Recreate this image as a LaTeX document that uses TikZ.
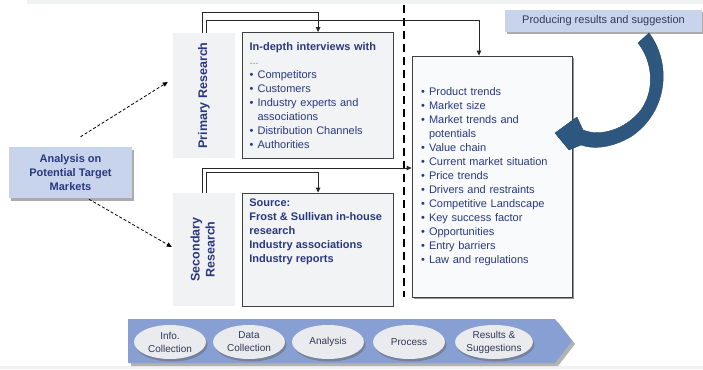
\documentclass[tikz,border=0pt]{standalone}
\usepackage{fontspec}
\setmainfont{Liberation Sans}
\usetikzlibrary{positioning,shadows,shapes.geometric,arrows.meta}
\definecolor{navy}{RGB}{42,56,128}
\definecolor{stripgray}{RGB}{241,242,243}
\definecolor{boxgray}{RGB}{242,243,244}
\definecolor{paleblue}{RGB}{199,212,236}
\definecolor{chevblue}{RGB}{136,159,211}
\definecolor{curveblue}{RGB}{45,87,126}
\definecolor{ovalgray}{RGB}{233,235,238}
\definecolor{slate}{RGB}{50,58,85}
\definecolor{bandgray}{RGB}{240,241,241}
\newcommand{\itm}[1]{\makebox[8pt][l]{\textbullet}#1}
\newcommand{\cnt}[1]{\hspace*{8pt}#1}
\newcommand{\txtfont}{\fontsize{11}{14}\selectfont}

\begin{document}
\begin{tikzpicture}[x=1pt,y=-1pt,
    strip/.style={fill=stripgray, text=navy, font=\fontsize{12.5}{15}\bfseries\selectfont,
      minimum width=62pt, inner sep=0pt},
    txtbox/.style={draw=black!75, fill=boxgray, line width=0.8pt, text=navy,
      font=\txtfont, align=left, inner sep=0pt},
    headbox/.style={fill=paleblue, inner sep=0pt,
      drop shadow={shadow xshift=2pt, shadow yshift=-2.5pt, fill=black!55, opacity=0.6}},
    oval/.style={ellipse, fill=ovalgray, minimum width=72pt, minimum height=34pt, inner sep=0pt,
      align=center, text=slate, font=\fontsize{10}{13}\selectfont,
      drop shadow={shadow xshift=1.5pt, shadow yshift=-2.5pt, fill=black!60, opacity=0.5}},
    conn/.style={draw=black!85, line width=1pt, -{Triangle[length=5pt,width=4.5pt]}},
    dasharr/.style={line width=0.8pt, dash pattern=on 3pt off 2pt, -{Triangle[length=5pt,width=4.5pt]}},
    sepline/.style={line width=2pt, dash pattern=on 8pt off 5pt}]
  \useasboundingbox (0,0) rectangle (703,369);
  \fill[bandgray] (27,0) rectangle (703,4.5);
  \fill[bandgray] (0,366) rectangle (703,369);

  % research strips and boxes
  \node[strip, minimum height=125pt] (prim) at (204,95.5) {\rotatebox{90}{Primary Research}};
  \node[txtbox, text width=137pt, inner xsep=7pt, minimum height=126pt, right=7pt of prim] (pbox)
    {\textbf{In-depth interviews with}\\ {\color{gray}...}\\ \itm{Competitors}\\ \itm{Customers}\\
     \itm{Industry experts and}\\ \cnt{associations}\\ \itm{Distribution Channels}\\ \itm{Authorities}\\[-5pt]};

  \node[strip, minimum height=113pt] (sec) at (204,249.5)
    {\rotatebox{90}{\begin{tabular}{@{}c@{}}Secondary\\Research\end{tabular}}};
  \node[txtbox, minimum width=151pt, minimum height=113pt, right=7pt of sec] (sbox) {};
  \node[anchor=north west, text=navy, font=\txtfont\bfseries, align=left, inner sep=0pt] (stxt)
    at ([xshift=7pt,yshift=-6pt]sbox.north west)
    {Source:\\Frost \& Sullivan in-house\\research\\Industry associations\\Industry reports};

  % results
  \node[txtbox, fill={rgb,255:red,248;green,250;blue,251}, text width=142pt, inner xsep=9pt,
    minimum height=241pt,
    drop shadow={shadow xshift=2pt, shadow yshift=-2pt, fill=black!70, opacity=0.6}] (rbox) at (492,176.5)
    {\itm{Product trends}\\ \itm{Market size}\\ \itm{Market trends and}\\ \cnt{potentials}\\
     \itm{Value chain}\\ \itm{Current market situation}\\ \itm{Price trends}\\
     \itm{Drivers and restraints}\\ \itm{Competitive Landscape}\\ \itm{Key success factor}\\
     \itm{Opportunities}\\ \itm{Entry barriers}\\ \itm{Law and regulations}};

  \node[headbox, text=navy, font=\txtfont\bfseries, align=center, minimum width=123pt,
    minimum height=51pt] (ana) at (70.5,172.5) {Analysis on\\Potential Target\\Markets};
  \node[headbox, text=slate, font=\txtfont, minimum width=197pt, minimum height=22pt] (prod)
    at (603.5,21) {Producing results and suggestion};

  \coordinate (dtop) at (404,5);
  \coordinate (dbot) at (404,297);
  \draw[sepline] (dtop) -- (dbot);

  \draw[conn] ([xshift=-2pt]prim.north) -- ++(0,-20) -| (pbox.north);
  \draw[conn] ([xshift=2pt]prim.north) -- ++(0,-12) -| ([xshift=-13pt]rbox.north);
  \draw[conn] ([xshift=-2pt]sec.north) |- ([yshift=8.5pt]rbox.west);
  \draw[conn] ([xshift=2pt]sec.north) -- ++(0,-20) -| (sbox.north);

  \draw[dasharr] ([xshift=10pt,yshift=10pt]ana.north) -- ([xshift=-5pt,yshift=13.5pt]prim.west);
  \draw[dasharr] ([xshift=18.5pt,yshift=-1pt]ana.south) -- ([xshift=-1pt,yshift=2.5pt]sec.west);

  % curved arrow
  \fill[curveblue, draw=curveblue!80!black, line width=0.4pt]
    (649,33) .. controls (671,62) and (669,110) .. (632,136)
    .. controls (614,147) and (595,150) .. (581,145) -- (569,150) -- (555,133) -- (577,117)
    -- (583,130) .. controls (600,137) and (625,130) .. (641,110)
    .. controls (655,90) and (653,62) .. (638,43) -- cycle;

  % process chevron
  \fill[black!30] (131,322) -- (558,322) -- (575,344) -- (558,366) -- (131,366) -- cycle;
  \fill[chevblue] (128,319) -- (555,319) -- (572,341) -- (555,363) -- (128,363) -- cycle;
  \node[oval] (o1) at (170,342) {Info.\\Collection};
  \node[oval] (o2) at (249,342) {Data\\Collection};
  \node[oval] (o3) at (328,342) {Analysis};
  \node[oval] (o4) at (409,342) {Process};
  \node[oval] (o5) at (494,342) {Results \&\\Suggestions};
\end{tikzpicture}
\end{document}
